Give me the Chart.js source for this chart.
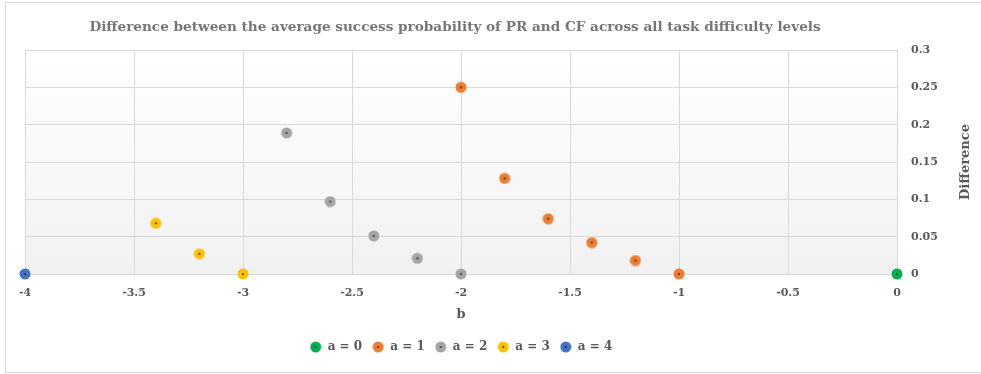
<!DOCTYPE html>
<html>
<head>
<meta charset="utf-8">
<script src="https://cdn.jsdelivr.net/npm/chart.js@4/dist/chart.umd.min.js"></script>
<style>
  html, body { margin: 0; padding: 0; background: #ffffff; }
  #wrap { width: 981px; height: 374px; }
</style>
</head>
<body>
<div id="wrap"><canvas id="chart" width="981" height="374"></canvas></div>
<script>
// Series: difference in average success probability (PR minus CF) by b, one series per a
const seriesNames = ['a = 0', 'a = 1', 'a = 2', 'a = 3', 'a = 4'];
const seriesColors = ['#00b050', '#ed7d31', '#a5a5a5', '#ffc000', '#4472c4'];

const bA0 = [0];
const diffA0 = [0];

const bA1 = [-2.0, -1.8, -1.6, -1.4, -1.2, -1.0];
const diffA1 = [0.25, 0.128, 0.074, 0.042, 0.018, 0];

const bA2 = [-2.8, -2.6, -2.4, -2.2, -2.0];
const diffA2 = [0.189, 0.097, 0.051, 0.021, 0];

const bA3 = [-3.4, -3.2, -3.0];
const diffA3 = [0.068, 0.027, 0];

const bA4 = [-4];
const diffA4 = [0];

const xTickLabels = ['-4', '-3.5', '-3', '-2.5', '-2', '-1.5', '-1', '-0.5', '0'];
const yTickLabels = ['0', '0.05', '0.1', '0.15', '0.2', '0.25', '0.3'];

const titleText = 'Difference between the average success probability of PR and CF across all task difficulty levels';
const xTitle = 'b';
const yTitle = 'Difference';

const TEXT = '#595959';
const TITLE_TEXT = '#767676';
const GRID = '#d9d9d9';
const FONT = '"DejaVu Serif", "Liberation Serif", serif';

// Marker: filled disc with a small dark centre dot
function marker(color) {
  const c = document.createElement('canvas');
  c.width = 12; c.height = 12;
  const g = c.getContext('2d');
  g.fillStyle = color;
  g.beginPath(); g.arc(6, 6, 5.5, 0, Math.PI * 2); g.fill();
  g.fillStyle = 'rgba(40,40,40,0.85)';
  g.beginPath(); g.arc(6, 6, 1.1, 0, Math.PI * 2); g.fill();
  return c;
}

function toPoints(xs, ys) { return xs.map((x, i) => ({ x: x, y: ys[i] })); }

const xsList = [bA0, bA1, bA2, bA3, bA4];
const ysList = [diffA0, diffA1, diffA2, diffA3, diffA4];

const datasets = seriesNames.map((name, i) => ({
  label: name,
  data: toPoints(xsList[i], ysList[i]),
  backgroundColor: seriesColors[i],
  borderColor: seriesColors[i],
  pointStyle: marker(seriesColors[i]),
  pointRadius: 6,
  clip: false
}));

// Frame, plot-area shading, titles
const decor = {
  id: 'decor',
  afterLayout(chart) {
    // legend sits a little left of the canvas centre
    const lg = chart.legend;
    if (lg) { lg.left -= 22; lg.right -= 22; }
  },
  beforeDraw(chart) {
    const ctx = chart.ctx;
    const a = chart.chartArea;
    ctx.save();
    ctx.fillStyle = '#ffffff';
    ctx.fillRect(0, 0, chart.width, chart.height);
    ctx.strokeStyle = '#d9d9d9';
    ctx.lineWidth = 1;
    ctx.strokeRect(5.5, 2.5, chart.width + 10, 370);
    const grad = ctx.createLinearGradient(0, a.top, 0, a.bottom);
    grad.addColorStop(0, '#ffffff');
    grad.addColorStop(1, '#f1f1f1');
    ctx.fillStyle = grad;
    ctx.fillRect(a.left, a.top, a.right - a.left, a.bottom - a.top);
    ctx.restore();
  },
  afterDraw(chart) {
    const ctx = chart.ctx;
    const a = chart.chartArea;
    ctx.save();
    ctx.textAlign = 'center';
    ctx.textBaseline = 'middle';
    // chart title
    ctx.fillStyle = TITLE_TEXT;
    ctx.font = 'bold 13.6px ' + FONT;
    ctx.fillText(titleText, 455, 27);
    // x-axis title
    ctx.fillStyle = TEXT;
    ctx.font = 'bold 13px ' + FONT;
    ctx.fillText(xTitle, (a.left + a.right) / 2, 315);
    // y-axis title, reading upward
    ctx.translate(966, (a.top + a.bottom) / 2);
    ctx.rotate(-Math.PI / 2);
    ctx.fillText(yTitle, 0, 0);
    ctx.restore();
  }
};

new Chart(document.getElementById('chart'), {
  type: 'scatter',
  data: { datasets: datasets },
  plugins: [decor],
  options: {
    responsive: false,
    animation: false,
    devicePixelRatio: 1,
    events: [],
    layout: { padding: { left: 25, right: 40, top: 50, bottom: 11 } },
    plugins: {
      title: { display: false },
      legend: {
        position: 'bottom',
        labels: {
          usePointStyle: true,
          color: TEXT,
          font: { family: FONT, size: 12, weight: 'bold' },
          padding: 10
        }
      },
      tooltip: { enabled: false }
    },
    scales: {
      x: {
        type: 'linear',
        min: -4, max: 0,
        ticks: {
          stepSize: 0.5,
          color: TEXT,
          font: { family: FONT, size: 11, weight: 'bold' },
          padding: 13,
          callback: (v, i) => xTickLabels[i]
        },
        grid: { color: GRID, drawTicks: false },
        border: { color: GRID },
        afterFit(scale) { scale.height = 57; }
      },
      y: {
        type: 'linear',
        position: 'right',
        min: 0, max: 0.3,
        ticks: {
          stepSize: 0.05,
          color: TEXT,
          font: { family: FONT, size: 11, weight: 'bold' },
          padding: 14,
          callback: (v, i) => yTickLabels[i]
        },
        grid: { color: GRID, drawTicks: false },
        border: { color: GRID },
        afterFit(scale) { scale.width = 44; }
      }
    }
  }
});
</script>
</body>
</html>
